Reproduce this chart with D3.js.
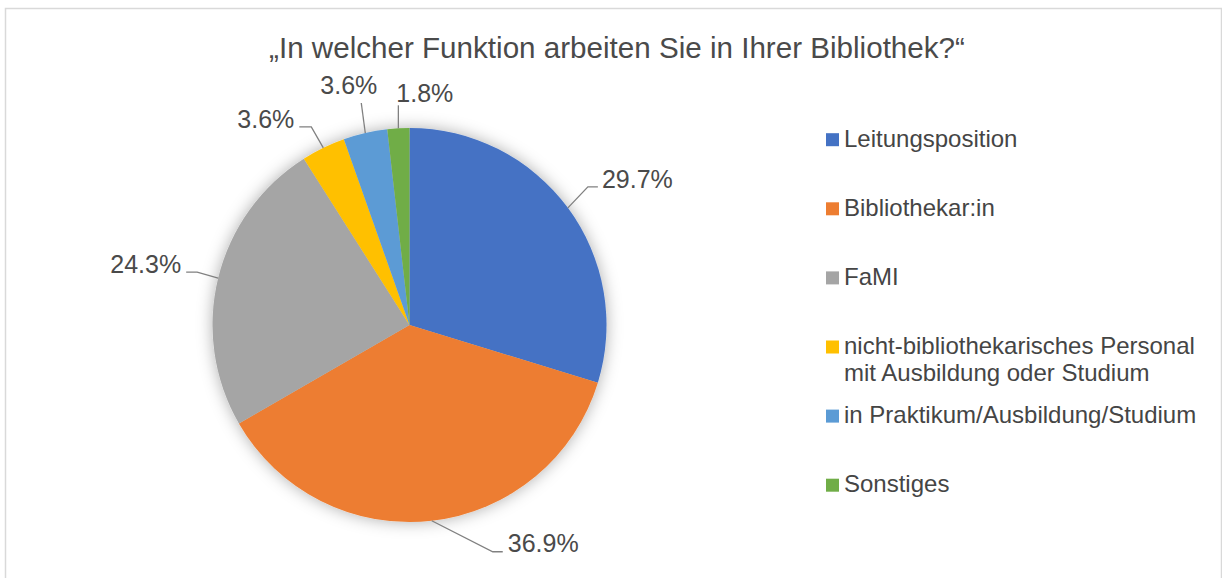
<!DOCTYPE HTML>
<html>
  <head>
    <script src="https://d3js.org/d3.v7.min.js"></script>
    <style>
      body, html {
        margin: 0;
        background: #fff;
        font-family: 'Liberation Sans', Arial, sans-serif;
      }
      .title { font-size: 29.6px; fill: #4a4a4a; text-anchor: middle; }
      .label { font-size: 25px; fill: #4a4a4a; }
      .legend text { font-size: 24px; fill: #454545; }
      .leader { fill: none; stroke: #808080; stroke-width: 1.3px; }
    </style>
  </head>
  <body>
    <div id="chart"></div>
    <script>
      var title = "\u201eIn welcher Funktion arbeiten Sie in Ihrer Bibliothek?\u201c";
      var categories = ["Leitungsposition", "Bibliothekar:in", "FaMI",
        "nicht-bibliothekarisches Personal\nmit Ausbildung oder Studium",
        "in Praktikum/Ausbildung/Studium", "Sonstiges"];
      var counts = [33, 41, 27, 4, 4, 2];
      var colors = ["#4472C4", "#ED7D31", "#A5A5A5", "#FFC000", "#5B9BD5", "#70AD47"];

      // label placement relative to the slice edge (elbow offset, tail, text offset)
      var labelLayout = [
        {dx: 20, dy: -21, tail: 10, anchor: "start", tx: 4, ty: 1.5},
        {dx: 61, dy: 31, tail: 10, anchor: "start", tx: 5, ty: 0.5},
        {dx: -21, dy: -6, tail: -11, anchor: "end", tx: -5, ty: 1},
        {dx: -12, dy: -21, tail: -12, anchor: "end", tx: -5, ty: 0.7},
        {dx: -4, dy: -30, tail: 0, anchor: "middle", tx: -12.5, ty: -8.7},
        {dx: 0, dy: -23, tail: 0, anchor: "start", tx: -2, ty: -3.3}
      ];

      var width = 1222, height = 578;
      var cx = 409.5, cy = 325, radius = 197;

      var svg = d3.select("#chart").append("svg")
        .attr("width", width)
        .attr("height", height);

      var defs = svg.append("defs");
      var f = defs.append("filter").attr("id", "glow")
        .attr("x", "-20%").attr("y", "-20%").attr("width", "140%").attr("height", "140%");
      f.append("feGaussianBlur").attr("in", "SourceAlpha").attr("stdDeviation", 8).attr("result", "blur");
      f.append("feFlood").attr("flood-color", "#000").attr("flood-opacity", 0.32);
      f.append("feComposite").attr("in2", "blur").attr("operator", "in").attr("result", "shadow");
      var m = f.append("feMerge");
      m.append("feMergeNode").attr("in", "shadow");
      m.append("feMergeNode").attr("in", "SourceGraphic");

      svg.append("rect")
        .attr("x", 5.5).attr("y", 8.5)
        .attr("width", 1216).attr("height", 600)
        .attr("fill", "#fff").attr("stroke", "#d9d9d9").attr("stroke-width", 1.5);

      svg.append("text").attr("class", "title")
        .attr("x", 617).attr("y", 58)
        .text(title);

      var total = d3.sum(counts);
      var pie = d3.pie().sort(null).value(d => d);
      var arcs = pie(counts);
      var arc = d3.arc().innerRadius(0).outerRadius(radius);
      var edge = d3.arc().innerRadius(radius).outerRadius(radius);

      var g = svg.append("g").attr("transform", "translate(" + cx + "," + cy + ")");

      g.append("g").attr("filter", "url(#glow)")
        .selectAll("path")
        .data(arcs)
        .enter()
        .append("path")
          .attr("d", arc)
          .attr("fill", (d, i) => colors[i]);

      var fmt = d3.format(".1%");
      arcs.forEach(function(d, i) {
        var L = labelLayout[i];
        var p0 = edge.centroid(d);
        var p1 = [p0[0] + L.dx, p0[1] + L.dy];
        var p2 = [p1[0] + L.tail, p1[1]];
        g.append("polyline").attr("class", "leader")
          .attr("points", [p0, p1, p2].map(p => p.join(",")).join(" "));
        g.append("text").attr("class", "label")
          .attr("x", p2[0] + L.tx)
          .attr("y", p1[1] + L.ty)
          .attr("text-anchor", L.anchor)
          .text(fmt(d.value / total));
      });

      var legend = svg.append("g").attr("class", "legend")
        .attr("transform", "translate(826,146.7)");
      var items = legend.selectAll("g")
        .data(categories)
        .enter()
        .append("g")
          .attr("transform", (d, i) => "translate(0," + (i * 69.1) + ")");
      items.append("rect")
        .attr("x", 0).attr("y", -13.5)
        .attr("width", 13).attr("height", 13)
        .attr("fill", (d, i) => colors[i]);
      items.append("text")
        .attr("x", 18)
        .selectAll("tspan")
        .data(d => d.split("\n"))
        .enter()
        .append("tspan")
          .attr("x", 18)
          .attr("dy", (d, i) => i === 0 ? 0 : 26.7)
          .text(d => d);
    </script>
  </body>
</html>
